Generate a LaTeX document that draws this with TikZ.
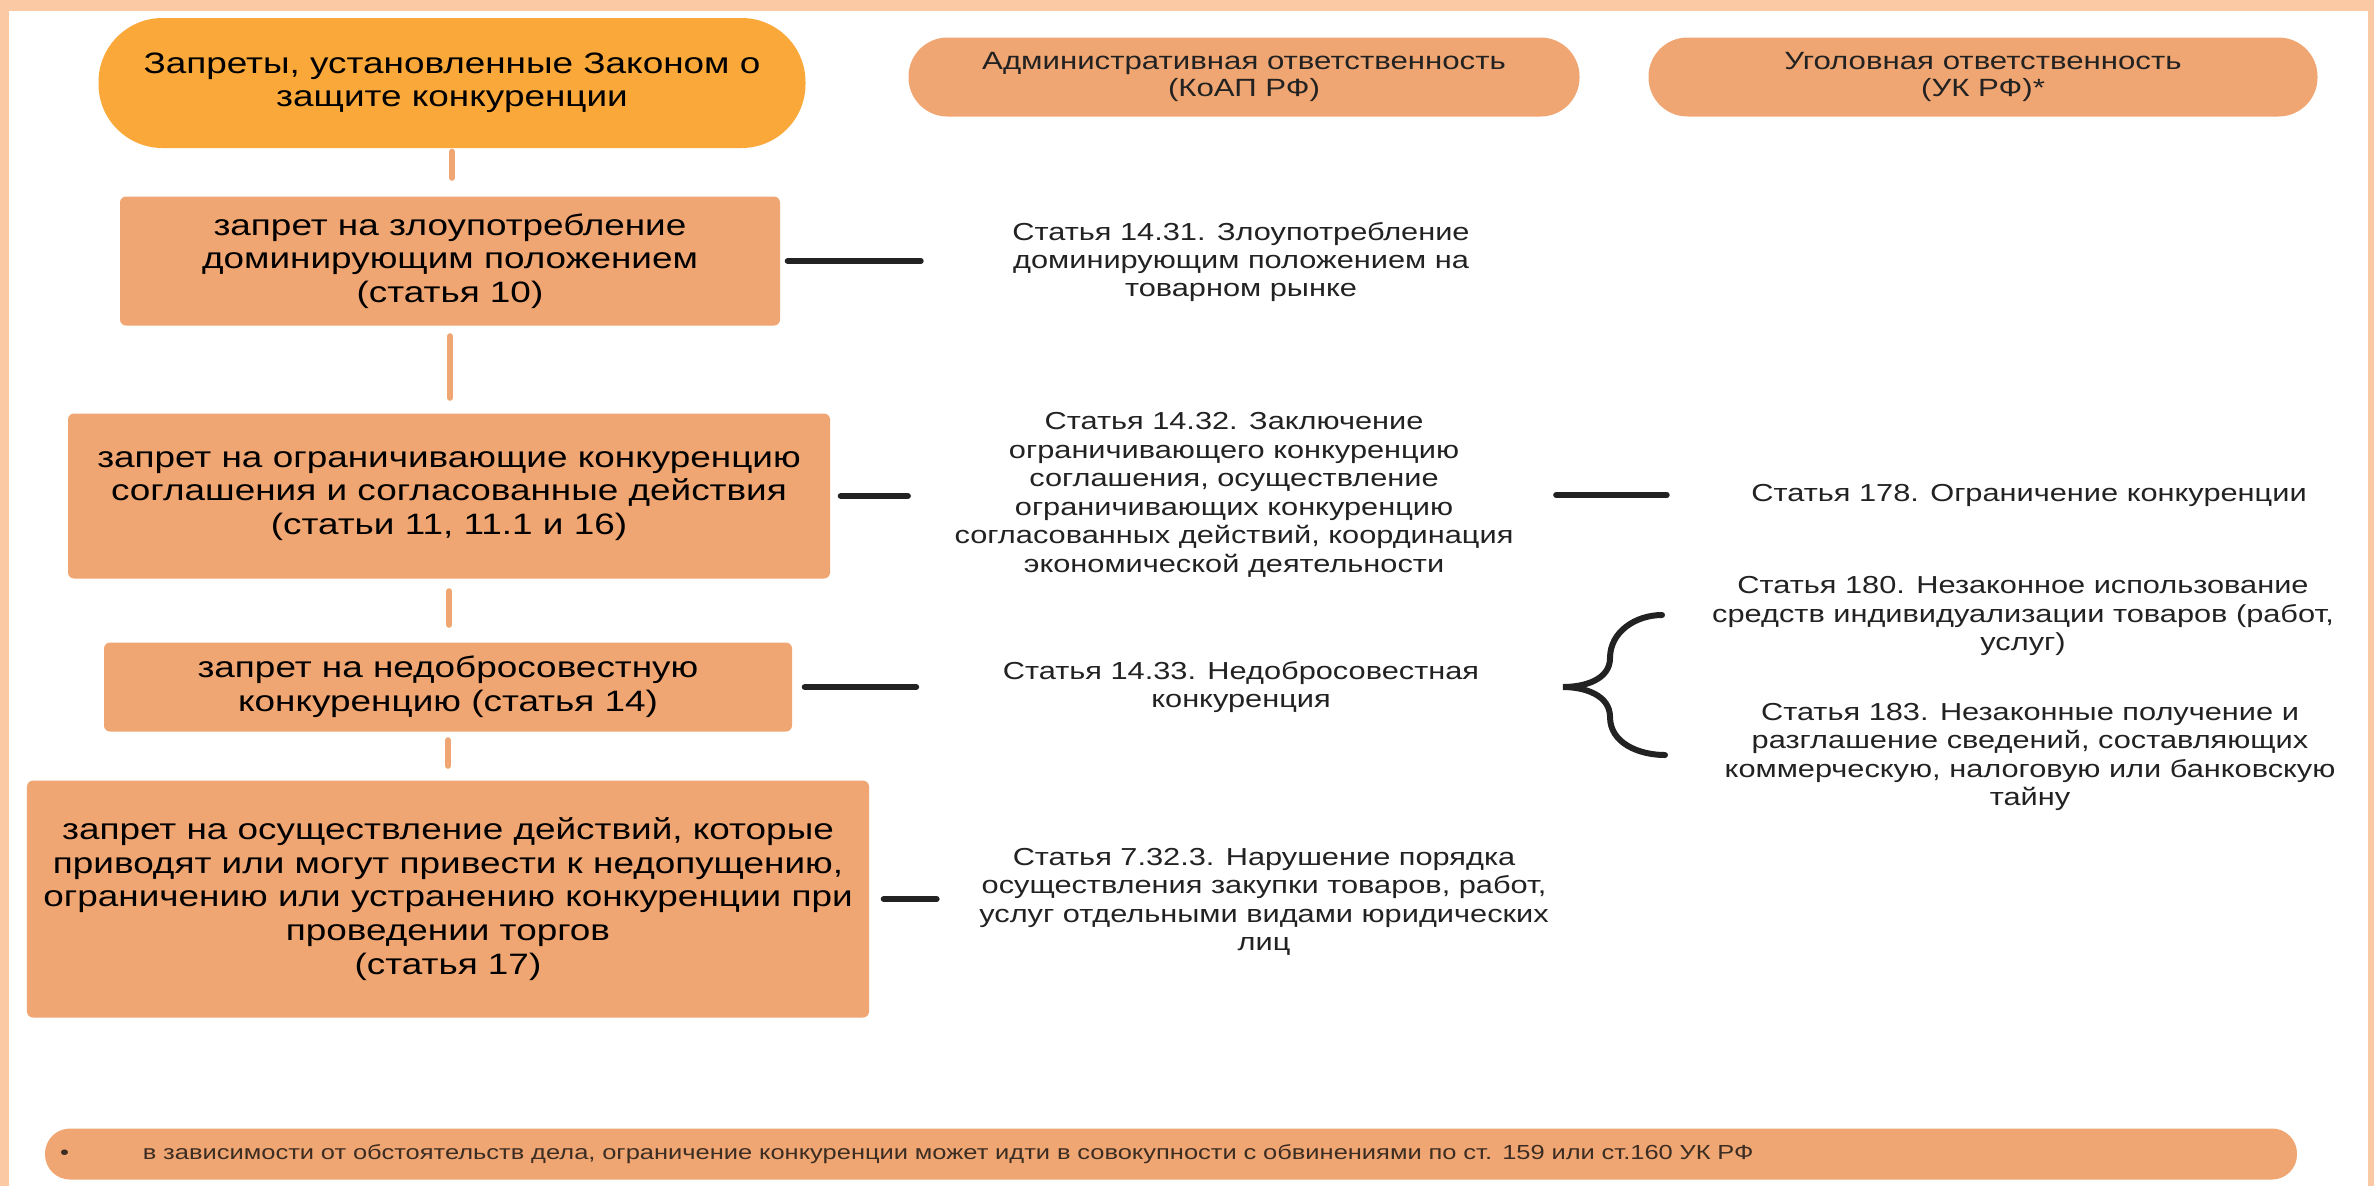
\documentclass[tikz,border=0pt]{standalone}
\usepackage{fontspec}
\setmainfont{Liberation Sans}[FakeStretch=1.25]
\definecolor{framepeach}{RGB}{251,201,163}
\definecolor{laworange}{RGB}{250,168,58}
\definecolor{salmon}{RGB}{240,166,114}
\definecolor{inkgray}{RGB}{34,34,34}
\definecolor{notebrown}{RGB}{60,45,35}

\begin{document}
\begin{tikzpicture}[
    pill/.style={fill=salmon,rounded corners=0.39cm,inner sep=0pt,align=center,text=inkgray,font=\fontsize{7.1pt}{7.6pt}\selectfont},
    ban/.style={fill=salmon,rounded corners=0.06cm,inner sep=0pt,align=center,font=\fontsize{8.4pt}{9.6pt}\selectfont},
    article/.style={inner sep=0pt,align=center,text=inkgray,font=\fontsize{7pt}{8.1pt}\selectfont},
    vlink/.style={-,line width=0.06cm,color=salmon,line cap=round},
    hlink/.style={-,line width=0.06cm,color=inkgray,line cap=round}
]
    \fill[framepeach] (0,0) rectangle (23.74,-11.86);
    \fill[white] (0.09,-0.11) rectangle (23.68,-11.86);
    \useasboundingbox (0,0) rectangle (23.74,-11.86);

    \node (law)  at (4.52,-0.83)  [pill,fill=laworange,minimum width=7.07cm,minimum height=1.30cm,rounded corners=0.64cm,text=black,font=\fontsize{8.4pt}{9.4pt}\selectfont] {Запреты, установленные Законом о\\защите конкуренции};
    \node (adm)  at (12.44,-0.77) [pill,minimum width=6.71cm,minimum height=0.79cm] {Административная ответственность\\(КоАП РФ)};
    \node (crim) at (19.83,-0.77) [pill,minimum width=6.69cm,minimum height=0.79cm] {Уголовная ответственность\\(УК РФ)*};

    \node (box1) at (4.50,-2.61) [ban,minimum width=6.60cm,minimum height=1.29cm] {запрет на злоупотребление\\доминирующим положением\\(статья 10)};
    \node (box2) at (4.49,-4.96) [ban,minimum width=7.62cm,minimum height=1.65cm] {запрет на ограничивающие конкуренцию\\соглашения и согласованные действия\\(статьи 11, 11.1 и 16)};
    \node (box3) at (4.48,-6.87) [ban,minimum width=6.88cm,minimum height=0.89cm] {запрет на недобросовестную\\конкуренцию (статья 14)};
    \node (box4) at (4.48,-8.99) [ban,minimum width=8.42cm,minimum height=2.37cm] {запрет на осуществление действий, которые\\приводят или могут привести к недопущению,\\ограничению или устранению конкуренции при\\проведении торгов\\(статья 17)};

    \node (t1431) at (12.41,-2.62) [article] {Статья 14.31. Злоупотребление\\доминирующим положением на\\товарном рынке};
    \node (t1432) at (12.34,-4.95) [article] {Статья 14.32. Заключение\\ограничивающего конкуренцию\\соглашения, осуществление\\ограничивающих конкуренцию\\согласованных действий, координация\\экономической деятельности};
    \node (t1433) at (12.41,-6.87) [article] {Статья 14.33. Недобросовестная\\конкуренция};
    \node (t7323) at (12.64,-9.02) [article] {Статья 7.32.3. Нарушение порядка\\осуществления закупки товаров, работ,\\услуг отдельными видами юридических\\лиц};

    \node (t178) at (20.29,-4.95) [article] {Статья 178. Ограничение конкуренции};
    \node (t180) at (20.23,-6.16) [article] {Статья 180. Незаконное использование\\средств индивидуализации товаров (работ,\\услуг)};
    \node (t183) at (20.30,-7.57) [article] {Статья 183. Незаконные получение и\\разглашение сведений, составляющих\\коммерческую, налоговую или банковскую\\тайну};

    \node (note) at (11.71,-11.54) [pill,minimum width=22.52cm,minimum height=0.51cm,rounded corners=0.25cm,inner xsep=0.15cm,text width=22.22cm,align=left,text=notebrown,font=\fontsize{5.8pt}{6.5pt}\selectfont] {•\hspace{0.74cm}в зависимости от обстоятельств дела, ограничение конкуренции может идти в совокупности с обвинениями по ст. 159 или ст.160 УК РФ};

    \draw[vlink,shorten <=0.03cm,shorten >=0.18cm] (law.south)  to (law.south |- box1.north);
    \draw[vlink,shorten <=0.10cm,shorten >=0.15cm] (box1.south) to (box1.south |- box2.north);
    \draw[vlink,shorten <=0.12cm,shorten >=0.17cm] (box2.south) to (box2.south |- box3.north);
    \draw[vlink,shorten <=0.08cm,shorten >=0.14cm] (box3.south) to (box3.south |- box4.north);

    \draw[hlink,shorten <=0.07cm,shorten >=0.91cm] (box1.east) to (box1.east -| t1431.west);
    \draw[hlink,shorten <=0.10cm,shorten >=0.46cm] (box2.east) to (box2.east -| t1432.west);
    \draw[hlink,shorten <=0.12cm,shorten >=0.86cm] (box3.east) to (box3.east -| t1433.west);
    \draw[hlink,shorten <=0.14cm,shorten >=0.42cm] (box4.east) to (box4.east -| t7323.west);
    \draw[hlink,shorten <=0.42cm,shorten >=0.84cm] (t1432.east) to (t1432.east -| t178.west);

    \coordinate (bracetop) at (16.62,-6.15);
    \coordinate (bracetip) at (15.63,-6.87);
    \coordinate (bracebot) at (16.65,-7.55);
    \draw[hlink] (bracetop) to[out=180,in=90] (16.10,-6.58) to[out=-90,in=0] (bracetip)
                 to[out=0,in=90] (16.10,-7.17) to[out=-90,in=180] (bracebot);

\end{tikzpicture}
\end{document}
